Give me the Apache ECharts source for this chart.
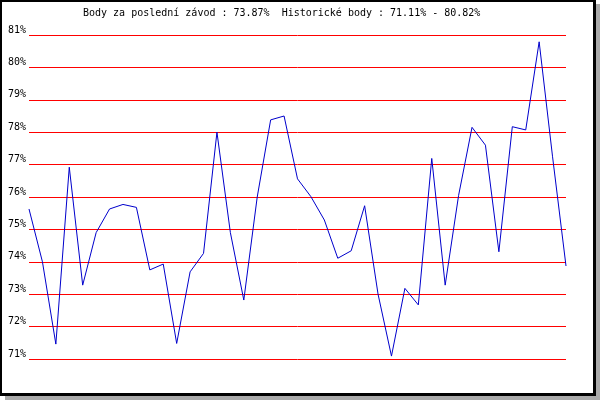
<!DOCTYPE html>
<html>
<head>
<meta charset="utf-8">
<script src="https://cdn.jsdelivr.net/npm/echarts@6/dist/echarts.min.js"></script>
<style>
  html, body { margin: 0; padding: 0; background: #fff; }
  #chart { width: 600px; height: 400px; }
</style>
</head>
<body>
<div id="chart"></div>
<script>
// body po jednotlivých závodech
const races = [];
for (let i = 1; i <= 41; i++) races.push(String(i));
const points = [
  75.63, 74.0, 71.46, 76.92, 73.28, 74.9, 75.63, 75.77, 75.68, 73.75,
  73.93, 71.48, 73.69, 74.26, 78.0, 74.9, 72.82, 76.0, 78.38, 78.5,
  76.56, 76.01, 75.29, 74.11, 74.34, 75.73, 73.0, 71.09, 73.18, 72.67,
  77.19, 73.28, 76.05, 78.15, 77.6, 74.31, 78.17, 78.07, 80.79, 77.24,
  73.87
];
const titleText = 'Body za poslední závod : 73.87%  Historické body : 71.11% - 80.82%';
const yMin = 71;
const yMax = 81;

const chart = echarts.init(document.getElementById('chart'));
const mono = 'DejaVu Sans Mono';

chart.setOption({
  animation: false,
  backgroundColor: '#fff',
  graphic: [
    // stín rámečku
    { type: 'rect', z: -10, shape: { x: 5, y: 4, width: 595, height: 396 }, style: { fill: '#a9a9a9' } },
    { type: 'rect', z: -9, shape: { x: 0, y: 0, width: 596, height: 396 }, style: { fill: '#000' } },
    { type: 'rect', z: -8, shape: { x: 2, y: 2, width: 591, height: 391 }, style: { fill: '#fff' } },
    {
      type: 'text', left: 83, top: 8, z: 10,
      style: { text: titleText, fontFamily: mono, fontSize: 10, fill: '#000' }
    }
  ],
  grid: { left: 29, right: 34, top: 35, bottom: 41 },
  xAxis: {
    type: 'category',
    data: races,
    boundaryGap: false,
    show: false
  },
  yAxis: {
    type: 'value',
    min: yMin,
    max: yMax,
    interval: 1,
    axisLine: { show: false },
    axisTick: { show: false },
    axisLabel: {
      formatter: '{value}%',
      fontFamily: mono,
      fontSize: 10,
      color: '#000',
      margin: 3,
      verticalAlign: 'bottom',
      padding: 0
    },
    splitLine: { lineStyle: { color: '#ff0000', width: 1 } }
  },
  series: [{
    type: 'line',
    data: points,
    symbol: 'none',
    lineStyle: { color: '#0000cc', width: 1 }
  }]
});
</script>
</body>
</html>
